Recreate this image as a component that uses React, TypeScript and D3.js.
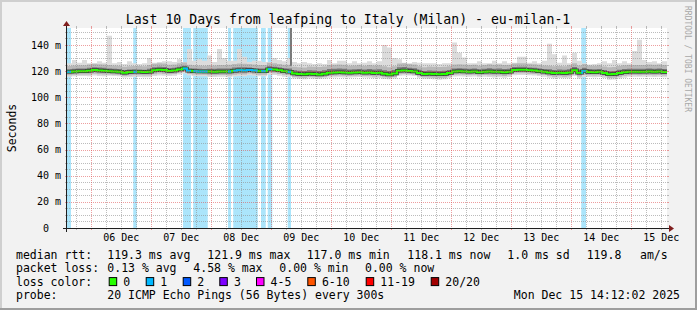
import React from "react";
import * as d3 from "d3";

// ---------------- data ----------------
const titleText = "Last 10 Days from leafping to Italy (Milan) - eu-milan-1";
const rangeHours = 240; // 10 days
const firstMidnightHour = 9.7; // hours after graph start
const dayLabels = ["06 Dec", "07 Dec", "08 Dec", "09 Dec", "10 Dec", "11 Dec", "12 Dec", "13 Dec", "14 Dec", "15 Dec"];
const yMax = 153; // ms
const yMinorStep = 5;
const yMajorStep = 20;

const binHours = 2;
// median rtt (ms) per 2h bin
const medianRtt = [
  119.5, 119.8, 120, 120, 120.3, 120.8, 120.5, 120.3, 120, 119.8, 119.6, 118.8, 119.4, 119.6, 119.5, 119.3, 119.6, 120.6, 121, 120.8, 120.2, 120.4, 121.3, 122,
  120.3, 120, 119.8, 119.7, 119.7, 119.6, 119.8, 119.8, 119.7, 120.3, 120.6, 120.5, 120.8, 120.4, 120, 120, 121.5, 121.2, 120.6, 120, 119.6, 118.2, 117.8, 117.6,
  118, 117.8, 117.5, 118, 118.8, 119, 119.2, 119, 118.8, 119, 119.2, 118.8, 119, 118.6, 118.8, 118, 117.5, 118.2, 120.3, 120.5, 120.2, 119.8, 118.6, 117.8, 118,
  117.8, 117.6, 117.8, 118.5, 119.8, 120, 119.8, 119.6, 119.8, 119.2, 119.6, 119.8, 119.5, 119.6, 119.2, 119.5, 120.8, 121, 121, 120.6, 120.4, 120, 119.6, 119,
  118.5, 118.8, 118.6, 119, 120.6, 118.8, 120, 119.4, 119.2, 119.5, 118.6, 117.6, 117.8, 118.6, 119.2, 119.5, 119.6, 119.5, 119.6, 119.8, 119.6, 119.8, 119.4,
];
// slowest ping (ms) per 2h bin
const maxRtt = [
  126, 128.5, 126.5, 128.5, 126, 126, 127.5, 126.5, 147, 126, 127, 125.5, 127.5, 126, 125.5, 126, 130, 126.5, 127, 127.5, 127.5, 127, 129, 127,
  137, 128, 129, 128, 132, 127, 137, 130, 128, 128, 137, 131, 127, 128, 128, 127, 127, 130, 128.5, 127.5, 130, 127, 126, 127,
  126, 125.5, 126, 125.5, 128.5, 126, 128, 128, 126, 127.5, 126, 126.5, 127.5, 126, 127.5, 140, 138, 130, 129, 126.5, 126, 127, 126.5, 126, 126,
  126, 125.5, 126, 126, 142, 134, 130.5, 126, 126, 127.5, 126, 126, 128, 126, 127.5, 126, 126.5, 131, 131, 126.5, 127.5, 126, 128, 141,
  133, 126.5, 132, 126, 134, 128, 126, 125, 125.5, 126, 127.5, 126, 128.5, 126, 127.5, 126, 135.5, 144, 128.5, 127, 127.5, 126, 127.5,
];
// spread of the smoke around the median (ms) per 8h bin
const gapHours = 8;
const p90Above = [4.5, 4.8, 4.6, 4.4, 5, 4.7, 4.5, 4.8, 5.2, 4.6, 4.9, 5.2, 5.6, 5.8, 5.4, 5.7, 5.5, 5.2, 5.6, 5.3, 5, 5.4, 5.1, 4.8, 5.2, 5.5, 5, 5.3, 5.1, 5.2];
const p75Above = [2, 2.2, 2, 1.8, 2.3, 2.1, 2, 2.2, 2.4, 2, 2.2, 2.5, 2.6, 2.8, 2.5, 2.7, 2.6, 2.4, 2.5, 2.3, 2.2, 2.4, 2.3, 2.1, 2.4, 2.5, 2.2, 2.4, 2.3, 2.3];
const p25Below = [1.4, 1.5, 1.3, 1.4, 1.6, 1.4, 1.3, 1.5, 1.6, 1.4, 1.5, 1.3, 1.2, 1.3, 1.2, 1.4, 1.3, 1.2, 1.4, 1.3, 1.3, 1.5, 1.4, 1.3, 1.4, 1.5, 1.3, 1.4, 1.3, 1.4];
const p10Below = [2.6, 2.8, 2.5, 2.7, 2.9, 2.6, 2.5, 2.8, 3, 2.7, 2.8, 2.6, 2.4, 2.6, 2.5, 2.7, 2.6, 2.5, 2.8, 2.6, 2.6, 2.9, 2.7, 2.6, 2.8, 2.9, 2.6, 2.8, 2.6, 2.7];
const minBelow = [3.8, 4.2, 3.6, 4, 4.3, 3.9, 3.7, 4.1, 4.4, 4, 4.2, 3.8, 3.6, 3.9, 3.7, 4, 3.8, 3.6, 4.1, 3.9, 3.9, 4.3, 4, 3.8, 4.1, 4.4, 3.9, 4.2, 3.8, 4];
// periods (hours from start) with 1/20 packet loss
const lossSpans: [number, number][] = [
  [0, 1.6], [26.5, 27.9], [46.4, 49.6], [50.5, 56.3], [64.4, 65.6], [66.5, 76.3], [77.6, 79.5], [80.3, 82.1], [88.3, 89.6], [205.7, 207.6],
];
// short burst of very slow pings
const burst = { from: 89.2, to: 90.0, low: 124, high: 160 };

const medianStats = ["119.3 ms avg", "121.9 ms max", "117.0 ms min", "118.1 ms now", "1.0 ms sd", "119.8", "am/s"];
const lossStats = ["0.13 % avg", "4.58 % max", "0.00 % min", "0.00 % now"];
const lossLabels = ["0", "1", "2", "3", "4-5", "6-10", "11-19", "20/20"];
const lossColors = ["#26ff00", "#00b8ff", "#0059ff", "#7e00ff", "#ff00ff", "#ff5500", "#ff0000", "#a10000"];
const probeText = "20 ICMP Echo Pings (56 Bytes) every 300s";
const stampText = "Mon Dec 15 14:12:02 2025";

// ---------------- layout ----------------
const W = 697, H = 310;
const X0 = 67, X1 = 667, Y0 = 228, Y1 = 28;
const FONT = "'DejaVu Sans Mono', monospace";
const GRID = "rgba(143,143,143,0.6)";
const MGRID = "rgba(222,79,79,0.55)";

export default function App() {
  const x = d3.scaleLinear().domain([0, rangeHours]).range([X0, X1]);
  const y = d3.scaleLinear().domain([0, yMax]).range([Y0, Y1]);

  type P = { h: number; med: number; max: number; p90: number; p75: number; p25: number; p10: number; min: number };
  const pts: P[] = medianRtt.map((m, i) => {
    const k = Math.floor((i * binHours) / gapHours);
    const p90 = m + p90Above[k];
    return {
      h: i * binHours,
      med: m,
      max: Math.max(maxRtt[i], p90),
      p90,
      p75: m + p75Above[k],
      p25: m - p25Below[k],
      p10: m - p10Below[k],
      min: m - minBelow[k],
    };
  });
  pts.push({ ...pts[pts.length - 1], h: rangeHours });

  const band = (lo: keyof P, hi: keyof P) =>
    d3
      .area<P>()
      .x((d) => x(d.h))
      .y0((d) => y(d[lo] as number))
      .y1((d) => y(d[hi] as number))
      .curve(d3.curveStepAfter)(pts) || "";
  const medPath =
    d3
      .line<P>()
      .x((d) => x(d.h))
      .y((d) => y(d.med))
      .curve(d3.curveStepAfter)(pts) || "";

  const hMinor = d3.range(yMinorStep, yMax, yMinorStep).filter((v) => v % yMajorStep !== 0);
  const hMajor = d3.range(yMajorStep, yMax, yMajorStep);
  const vAll = d3.range(firstMidnightHour - 6, rangeHours + 0.01, 6);
  const vMajor = vAll.filter((_, i) => (i - 1) % 4 === 0);
  const vMinor = vAll.filter((_, i) => (i - 1) % 4 !== 0);
  const yTickVals = d3.range(0, yMax, yMajorStep);

  const cy = (v: number) => Math.round(y(v)) + 0.5;
  const cx = (h: number) => Math.round(x(h)) + 0.5;

  const legendX = 16;
  const valX = 107.3;
  const medianX = [107.3, 207.3, 306.7, 407.3, 507.3, 586.7, 640];
  const lossX = [107.3, 193.3, 279.3, 365];
  const boxX = [108.7, 145.7, 182.7, 219.3, 256, 307.3, 365.7, 430.7];
  const rows = [258.5, 272, 285.6, 299.2];

  return (
    <svg width={W} height={H} style={{ position: "fixed", left: 0, top: 0, display: "block" }} xmlns="http://www.w3.org/2000/svg">
      <defs>
        <clipPath id="lossClip">
          {lossSpans.map(([a, b], i) => (
            <rect key={i} x={x(a)} y={0} width={x(b) - x(a)} height={H} />
          ))}
        </clipPath>
        <clipPath id="plotClip">
          <rect x={X0} y={Y1} width={X1 - X0} height={Y0 - Y1} />
        </clipPath>
      </defs>
      {/* background & frame */}
      <rect x={0} y={0} width={W} height={H} fill="#f2f2f2" />
      <rect x={0} y={0} width={W} height={2} fill="#cfcfcf" />
      <rect x={0} y={0} width={2} height={H} fill="#cfcfcf" />
      <rect x={0} y={H - 2} width={W} height={2} fill="#9e9e9e" />
      <rect x={W - 2} y={0} width={2} height={H} fill="#9e9e9e" />

      {/* canvas */}
      <rect x={X0} y={Y1} width={X1 - X0} height={Y0 - Y1} fill="#ffffff" />

      {/* loss background */}
      {lossSpans.map(([a, b], i) => (
        <rect key={i} x={x(a)} y={Y1} width={x(b) - x(a)} height={Y0 - Y1} fill="#abe5fb" />
      ))}

      {/* smoke */}
      <g clipPath="url(#plotClip)">
        <path d={band("min", "max")} fill="#dcdcdc" />
        <path d={band("p10", "p90")} fill="#b8b8b8" />
        <path d={band("p25", "p75")} fill="#787878" />
        <rect x={x(burst.from)} y={y(burst.high)} width={x(burst.to) - x(burst.from)} height={y(burst.low) - y(burst.high)} fill="#7a7a7a" />
        <path d={medPath} fill="none" stroke="#3a3a3a" strokeWidth={3.5} />
        <path d={medPath} fill="none" stroke={lossColors[0]} strokeWidth={2} />
        <path d={medPath} fill="none" stroke={lossColors[1]} strokeWidth={2} clipPath="url(#lossClip)" />
      </g>

      {/* grid */}
      <g shapeRendering="crispEdges">
        {hMinor.map((v) => (
          <g key={"hm" + v}>
            <line x1={X0} x2={X1} y1={cy(v)} y2={cy(v)} stroke={GRID} strokeDasharray="1,1" />
            <line x1={X0 - 2} x2={X0} y1={cy(v)} y2={cy(v)} stroke={GRID} />
            <line x1={X1} x2={X1 + 2} y1={cy(v)} y2={cy(v)} stroke={GRID} />
          </g>
        ))}
        {vMinor.map((h) => (
          <g key={"vm" + h}>
            <line x1={cx(h)} x2={cx(h)} y1={Y1} y2={Y0} stroke={GRID} strokeDasharray="1,1" />
            <line x1={cx(h)} x2={cx(h)} y1={Y0} y2={Y0 + 2} stroke={GRID} />
            <line x1={cx(h)} x2={cx(h)} y1={Y1 - 2} y2={Y1} stroke={GRID} />
          </g>
        ))}
        {hMajor.map((v) => (
          <g key={"hM" + v}>
            <line x1={X0} x2={X1} y1={cy(v)} y2={cy(v)} stroke={MGRID} strokeDasharray="1,1" />
            <line x1={X0 - 2} x2={X0} y1={cy(v)} y2={cy(v)} stroke={MGRID} />
            <line x1={X1} x2={X1 + 2} y1={cy(v)} y2={cy(v)} stroke={MGRID} />
          </g>
        ))}
        {vMajor.map((h) => (
          <g key={"vM" + h}>
            <line x1={cx(h)} x2={cx(h)} y1={Y1} y2={Y0} stroke={MGRID} strokeDasharray="1,1" />
            <line x1={cx(h)} x2={cx(h)} y1={Y0} y2={Y0 + 2} stroke={MGRID} />
            <line x1={cx(h)} x2={cx(h)} y1={Y1 - 2} y2={Y1} stroke={MGRID} />
          </g>
        ))}
      </g>

      {/* axes */}
      <g shapeRendering="crispEdges">
        <line x1={X0 - 4} x2={X1 + 4} y1={Y0 + 0.5} y2={Y0 + 0.5} stroke="#1f1f1f" />
        <line x1={X0 - 0.5} x2={X0 - 0.5} y1={Y0 + 4} y2={Y1 - 4} stroke="#1f1f1f" />
      </g>
      <polygon points={`${X1 + 2},${Y0 - 3} ${X1 + 2},${Y0 + 4} ${X1 + 7},${Y0 + 0.5}`} fill="#801f1f" />
      <polygon points={`${X0 - 4},${Y1 - 2} ${X0 + 3},${Y1 - 2} ${X0 - 0.5},${Y1 - 7}`} fill="#801f1f" />

      {/* y labels */}
      {yTickVals.map((v) => (
        <text key={"yl" + v} x={v === 0 ? 49 : 61} y={y(v) + 3.6} textAnchor="end" fontFamily={FONT} fontSize={10} fill="#000">
          {v === 0 ? "0" : `${v} m`}
        </text>
      ))}
      {/* x labels */}
      {dayLabels.map((lab, i) => (
        <text key={lab} x={x(firstMidnightHour + 12 + 24 * i)} y={241} textAnchor="middle" fontFamily={FONT} fontSize={10} fill="#000">
          {lab}
        </text>
      ))}
      {/* axis title */}
      <text transform="translate(15.5,128) rotate(-90)" textAnchor="middle" fontFamily={FONT} fontSize={11.5} fill="#000">
        Seconds
      </text>
      {/* title */}
      <text x={348} y={23.5} textAnchor="middle" fontFamily={FONT} fontSize={13.2} fill="#000">
        {titleText}
      </text>
      {/* watermark */}
      <text transform="translate(685,59) rotate(90)" textAnchor="middle" fontFamily={FONT} fontSize={8} fill="#a8a8a8">
        RRDTOOL / TOBI OETIKER
      </text>

      {/* legend */}
      <g fontFamily={FONT} fontSize={11.5} fill="#000" style={{ whiteSpace: "pre" }}>
        <text x={legendX} y={rows[0]}>median rtt:</text>
        {medianStats.map((s, i) => (
          <text key={"ms" + i} x={medianX[i]} y={rows[0]}>{s}</text>
        ))}
        <text x={legendX} y={rows[1]}>packet loss:</text>
        {lossStats.map((s, i) => (
          <text key={"ls" + i} x={lossX[i]} y={rows[1]}>{s}</text>
        ))}
        <text x={legendX} y={rows[2]}>loss color:</text>
        {lossLabels.map((lab, i) => (
          <g key={"lc" + i}>
            <rect x={boxX[i] + 0.5} y={rows[2] - 8} width={7.5} height={8} fill={lossColors[i]} stroke="#000" strokeWidth={1} />
            <text x={boxX[i] + 14.6} y={rows[2]}>{lab}</text>
          </g>
        ))}
        <text x={legendX} y={rows[3]}>probe:</text>
        <text x={valX} y={rows[3]}>{probeText}</text>
        <text x={680} y={rows[3]} textAnchor="end">{stampText}</text>
      </g>
    </svg>
  );
}
